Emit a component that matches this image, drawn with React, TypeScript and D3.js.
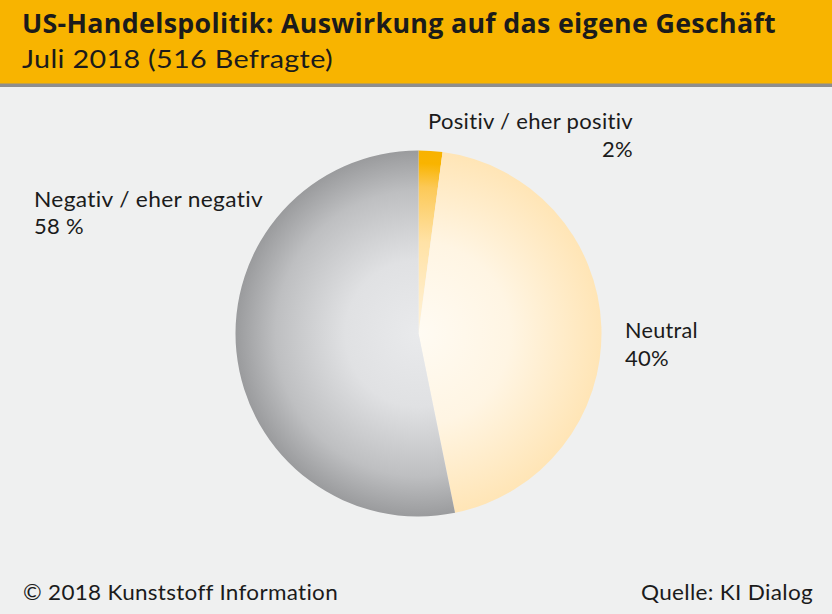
import React from "react";
import * as d3 from "d3";

// ---- data ----
const categories = ["Positiv / eher positiv", "Neutral", "Negativ / eher negativ"];
// slice shares as drawn in the reference (clockwise from 12 o'clock)
const sliceShares = [2.1, 44.7, 53.2];
// percent labels as printed in the reference
const percentLabels = ["2%", "40%", "58 %"];

const titleText = "US-Handelspolitik: Auswirkung auf das eigene Geschäft";
const subtitleText = "Juli 2018 (516 Befragte)";
const footerLeft = "© 2018 Kunststoff Information";
const footerRight = "Quelle: KI Dialog";

const W = 832;
const H = 614;
const cx = 418.5;
const cy = 333.5;
const R = 183;

const FONT = "'Open Sans', 'Lato', 'DejaVu Sans', sans-serif";
const LFONT = "Lato, 'Open Sans', 'DejaVu Sans', sans-serif";
const noLig = {
  fontVariantLigatures: "none",
  fontFeatureSettings: "'liga' 0, 'clig' 0, 'dlig' 0, 'calt' 0",
  letterSpacing: "0.3px",
} as React.CSSProperties;

export default function App() {
  const pie = d3
    .pie<number>()
    .sort(null)
    .startAngle(0)
    .endAngle(2 * Math.PI)
    .value((d) => d);
  const arcs = pie(sliceShares);
  const arc = d3.arc<d3.PieArcDatum<number>>().innerRadius(0).outerRadius(R);
  const fills = ["url(#gPos)", "url(#gNeu)", "url(#gNeg)"];

  return (
    <svg
      width={W}
      height={H}
      viewBox={`0 0 ${W} ${H}`}
      style={{ position: "absolute", left: 0, top: 0, display: "block" }}
    >
      <defs>
        <radialGradient id="gNeg" gradientUnits="userSpaceOnUse" cx={0} cy={0} r={R}>
          <stop offset="0" stopColor="#e9eaec" />
          <stop offset="0.4" stopColor="#e0e1e3" />
          <stop offset="0.78" stopColor="#bebfc1" />
          <stop offset="1" stopColor="#9a9b9d" />
        </radialGradient>
        <radialGradient id="gNeu" gradientUnits="userSpaceOnUse" cx={0} cy={0} r={R}>
          <stop offset="0" stopColor="#fffbf3" />
          <stop offset="0.5" stopColor="#fff5e3" />
          <stop offset="1" stopColor="#ffe5b6" />
        </radialGradient>
        <radialGradient id="gPos" gradientUnits="userSpaceOnUse" cx={0} cy={0} r={R}>
          <stop offset="0" stopColor="#fff3dc" />
          <stop offset="0.5" stopColor="#ffe2a6" />
          <stop offset="0.8" stopColor="#fcc957" />
          <stop offset="0.93" stopColor="#f9b400" />
          <stop offset="1" stopColor="#f8b200" />
        </radialGradient>
      </defs>

      <rect x={0} y={0} width={W} height={H} fill="#eff0f0" />
      <rect x={0} y={0} width={W} height={84} fill="#f8b400" />
      <rect x={0} y={83.5} width={W} height={3.5} fill="#8e8e8e" />

      <text
        x={22}
        y={33}
        fontFamily={FONT}
        fontWeight={700}
        fontSize={26}
        fill="#1b1b1b"
        textLength={754}
        lengthAdjust="spacingAndGlyphs"
        style={noLig}
      >
        {titleText}
      </text>
      <text
        x={22}
        y={68}
        fontFamily={LFONT}
        fontSize={25.5}
        fill="#1b1b1b"
        textLength={311}
        lengthAdjust="spacingAndGlyphs"
        style={noLig}
      >
        {subtitleText}
      </text>

      <g transform={`translate(${cx},${cy})`}>
        {arcs.map((a, i) => (
          <path key={categories[i]} d={arc(a) || ""} fill={fills[i]} />
        ))}
      </g>

      {/* labels */}
      <g fontFamily={LFONT} fontSize={22} fill="#1b1b1b">
        <text x={428} y={129} textLength={205} lengthAdjust="spacingAndGlyphs" style={noLig}>
          {categories[0]}
        </text>
        <text x={633} y={157} textAnchor="end" style={noLig}>
          {percentLabels[0]}
        </text>
        <text x={625} y={338} textLength={73} lengthAdjust="spacingAndGlyphs" style={noLig}>
          {categories[1]}
        </text>
        <text x={625} y={366} style={noLig}>
          {percentLabels[1]}
        </text>
        <text x={34} y={207} textLength={229} lengthAdjust="spacingAndGlyphs" style={noLig}>
          {categories[2]}
        </text>
        <text x={34} y={234} style={noLig}>
          {percentLabels[2]}
        </text>
      </g>

      <g fontFamily={LFONT} fontSize={22} fill="#1b1b1b">
        <text x={23} y={600} textLength={315} lengthAdjust="spacingAndGlyphs" style={noLig}>
          {footerLeft}
        </text>
        <text x={813} y={600} textAnchor="end" textLength={172} lengthAdjust="spacingAndGlyphs" style={noLig}>
          {footerRight}
        </text>
      </g>
    </svg>
  );
}
